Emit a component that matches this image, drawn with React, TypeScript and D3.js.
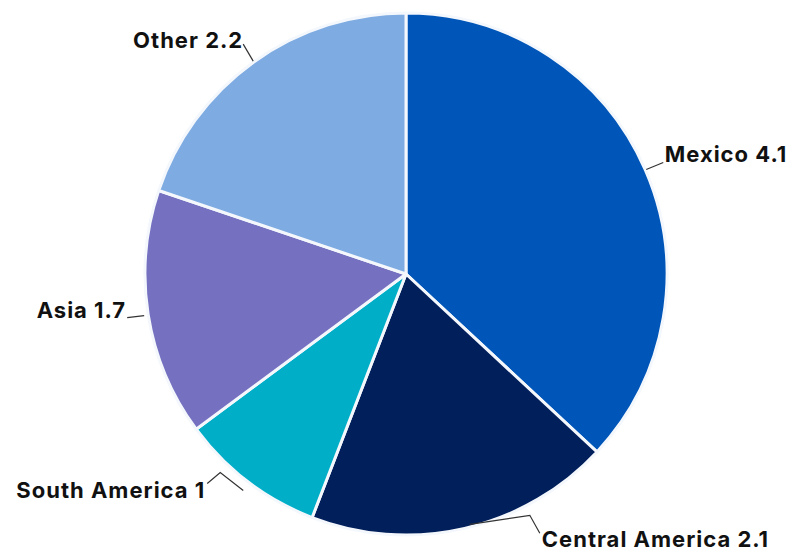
import React from "react";
import * as d3 from "d3";

const categories = ["Mexico", "Central America", "South America", "Asia", "Other"];
const values = [4.1, 2.1, 1, 1.7, 2.2];
const colors = ["#0056b8", "#001f5b", "#00afc7", "#7571c0", "#7eabe1"];

// label layout (offsets relative to the slice's outer-edge anchor)
const leaderPaths: [number, number][][] = [
  [[0, 0], [17, -7]],
  [[5, -5], [65, -14], [75, 4]],
  [[-4, 8], [-27, -10], [-40, 1]],
  [[-3, 1], [-20, 3]],
  [[0, 0], [-10, -17]],
];
const labelPos: [number, number, string][] = [
  [18.5, -7.5, "start"],
  [77, 17.7, "start"],
  [-42, 15.6, "end"],
  [-21, 3.4, "end"],
  [-10, -13, "end"],
];

const W = 792, H = 552;
const cx = 406, cy = 274, R = 261;

export default function App() {
  const pie = d3.pie<number>().sort(null).value((d) => d)(values);
  const arc = d3.arc<d3.PieArcDatum<number>>().innerRadius(0).outerRadius(R);
  return (
    <svg width={W} height={H} style={{ position: "absolute", left: 0, top: 0, background: "#fff" }}>
      <g transform={`translate(${cx},${cy})`}>
        {pie.map((p, i) => (
          <path key={i} d={arc(p) || ""} fill={colors[i]} stroke="#f4f8fd" strokeWidth={3} strokeLinejoin="round" />
        ))}
        {pie.map((p, i) => {
          const a = (p.startAngle + p.endAngle) / 2;
          const ax = Math.sin(a) * (R + 1);
          const ay = -Math.cos(a) * (R + 1);
          const pts = leaderPaths[i].map(([dx, dy]) => [ax + dx, ay + dy] as [number, number]);
          const [lx, ly, anchor] = labelPos[i];
          return (
            <g key={"l" + i}>
              <path d={d3.line()(pts) || ""} fill="none" stroke="#333" strokeWidth={1.2} />
              <text
                x={ax + lx}
                y={ay + ly}
                textAnchor={anchor as any}
                fontFamily="Inter, 'Open Sans', sans-serif"
                fontWeight={700}
                fontSize={22}
                fill="#111"
                letterSpacing={1}
              >
                {categories[i]} {values[i]}
              </text>
            </g>
          );
        })}
      </g>
    </svg>
  );
}
